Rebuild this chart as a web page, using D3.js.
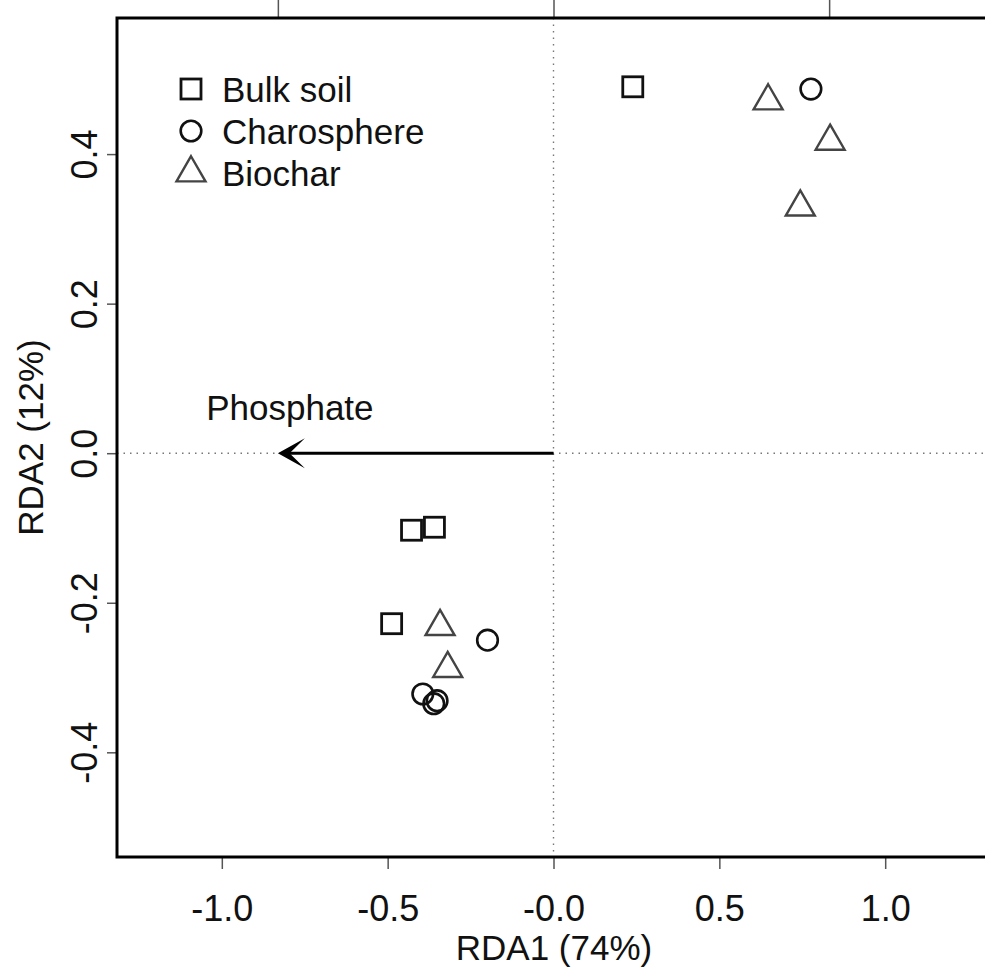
<!DOCTYPE html>
<html>
<head>
<meta charset="utf-8">
<script src="https://cdn.jsdelivr.net/npm/d3@7/dist/d3.min.js"></script>
<style>
  html, body { margin: 0; padding: 0; background: #fff; }
  svg { display: block; }
  text { font-family: "Liberation Sans", Arial, Helvetica, sans-serif; fill: #111; }
</style>
</head>
<body>
<svg id="chart" width="985" height="970"></svg>
<script>
// RDA site scores, grouped by sample type
const groups = ["Bulk soil", "Charosphere", "Biochar"];
const bulkX = [0.239, -0.428, -0.359, -0.488];
const bulkY = [0.490, -0.103, -0.099, -0.228];
const charoX = [0.776, -0.199, -0.394, -0.361, -0.351];
const charoY = [0.487, -0.250, -0.322, -0.335, -0.331];
const biocharX = [0.647, 0.834, 0.744, -0.342, -0.319];
const biocharY = [0.471, 0.417, 0.329, -0.232, -0.288];

// Environmental variable (biplot scores, drawn on the top-axis scale)
const envNames = ["Phosphate"];
const envX = [-1.0];
const envY = [0.0];

// Axis ticks
const xTicks = [-1.0, -0.5, 0.0, 0.5, 1.0];
const xTickLabels = ["-1.0", "-0.5", "-0.0", "0.5", "1.0"];
const yTicks = [-0.4, -0.2, 0.0, 0.2, 0.4];
const yTickLabels = ["-0.4", "-0.2", "0.0", "0.2", "0.4"];
const topTicks = [-1, 0, 1];
const xTitle = "RDA1 (74%)";
const yTitle = "RDA2 (12%)";

const svg = d3.select("#chart");
const plot = { left: 117, right: 991, top: 18, bottom: 857 };

const x = d3.scaleLinear().domain([-1.316, 1.319]).range([plot.left, plot.right]);
const y = d3.scaleLinear().domain([-0.540, 0.582]).range([plot.bottom, plot.top]);
// biplot arrows use their own scale, shown by the top axis
const envScale = 0.831;
const xTop = d3.scaleLinear()
  .domain(x.domain().map(v => v / envScale))
  .range(x.range());

svg.append("rect").attr("width", 985).attr("height", 970).attr("fill", "#fff");

// Dotted reference lines through the origin
svg.append("line")
  .attr("x1", x(0)).attr("x2", x(0))
  .attr("y1", plot.top).attr("y2", plot.bottom)
  .attr("stroke", "#777").attr("stroke-width", 1.4)
  .attr("stroke-dasharray", "1.5,5");
svg.append("line")
  .attr("x1", plot.left).attr("x2", plot.right)
  .attr("y1", y(0)).attr("y2", y(0))
  .attr("stroke", "#777").attr("stroke-width", 1.4)
  .attr("stroke-dasharray", "1.5,5");

// Bottom axis
const gx = svg.append("g")
  .attr("transform", `translate(0,${plot.bottom})`)
  .call(d3.axisBottom(x).tickValues(xTicks).tickSize(12).tickPadding(26)
    .tickFormat((d, i) => xTickLabels[i]));
gx.select(".domain").remove();
gx.selectAll("line").attr("stroke", "#555").attr("stroke-width", 1.5);
gx.selectAll("text").attr("font-size", 36).attr("fill", "#111")
  .style("font-family", "'Liberation Sans', Arial, sans-serif");

// Left axis with rotated labels
const gy = svg.append("g")
  .attr("transform", `translate(${plot.left},0)`)
  .call(d3.axisLeft(y).tickValues(yTicks).tickSize(10)
    .tickFormat((d, i) => yTickLabels[i]));
gy.select(".domain").remove();
gy.selectAll("line").attr("stroke", "#555").attr("stroke-width", 1.5);
gy.selectAll("text")
  .attr("x", 0).attr("y", -20).attr("dy", 0)
  .attr("text-anchor", "middle")
  .attr("transform", "rotate(-90)")
  .attr("font-size", 36).attr("fill", "#111")
  .style("font-family", "'Liberation Sans', Arial, sans-serif");

// Top axis (biplot scale)
const gt = svg.append("g")
  .attr("transform", `translate(0,${plot.top})`)
  .call(d3.axisTop(xTop).tickValues(topTicks).tickSize(18).tickFormat(""));
gt.select(".domain").remove();
gt.selectAll("line").attr("stroke", "#555").attr("stroke-width", 1.5);

// Axis titles
svg.append("text")
  .attr("x", (plot.left + plot.right) / 2).attr("y", 960)
  .attr("text-anchor", "middle").attr("font-size", 35)
  .text(xTitle);
svg.append("text")
  .attr("transform", `translate(43,${(plot.top + plot.bottom) / 2}) rotate(-90)`)
  .attr("text-anchor", "middle").attr("font-size", 35)
  .text(yTitle);

// Environmental arrow
envNames.forEach((name, i) => {
  const x0 = xTop(0), y0 = y(0);
  const x1 = xTop(envX[i]), y1 = y(envY[i] * envScale);
  const ang = Math.atan2(y1 - y0, x1 - x0);
  const headLen = 27, headHalf = 15, notch = 9;
  const ux = Math.cos(ang), uy = Math.sin(ang);
  const px = -uy, py = ux;
  svg.append("line")
    .attr("x1", x0).attr("y1", y0)
    .attr("x2", x1 - ux * notch).attr("y2", y1 - uy * notch)
    .attr("stroke", "#000").attr("stroke-width", 3);
  const bx = x1 - ux * headLen, by = y1 - uy * headLen;
  const head = d3.path();
  head.moveTo(x1, y1);
  head.lineTo(bx + px * headHalf, by + py * headHalf);
  head.lineTo(x1 - ux * notch * 1.3, y1 - uy * notch * 1.3);
  head.lineTo(bx - px * headHalf, by - py * headHalf);
  head.closePath();
  svg.append("path").attr("d", head.toString()).attr("fill", "#000");
  svg.append("text")
    .attr("x", x1 + 12).attr("y", y1 - 33)
    .attr("text-anchor", "middle").attr("font-size", 35)
    .text(name);
});

// Marker shapes
const squareSide = 20;
const circleR = 10.3;
const triSym = d3.symbol().type(d3.symbolTriangle).size(364);

function drawSquare(g, cx, cy) {
  g.append("rect")
    .attr("x", cx - squareSide / 2).attr("y", cy - squareSide / 2)
    .attr("width", squareSide).attr("height", squareSide)
    .attr("fill", "none").attr("stroke", "#111").attr("stroke-width", 2.8);
}
function drawCircle(g, cx, cy) {
  g.append("circle").attr("cx", cx).attr("cy", cy).attr("r", circleR)
    .attr("fill", "none").attr("stroke", "#111").attr("stroke-width", 2.6);
}
function drawTriangle(g, cx, cy) {
  g.append("path").attr("d", triSym())
    .attr("transform", `translate(${cx},${cy})`)
    .attr("fill", "none").attr("stroke", "#444").attr("stroke-width", 2.4)
    .attr("stroke-linejoin", "miter");
}

const pts = svg.append("g");
bulkX.forEach((v, i) => drawSquare(pts, x(v), y(bulkY[i])));
charoX.forEach((v, i) => drawCircle(pts, x(v), y(charoY[i])));
biocharX.forEach((v, i) => drawTriangle(pts, x(v), y(biocharY[i])));

// Legend
const legend = svg.append("g");
const legendDraw = [drawSquare, drawCircle, drawTriangle];
groups.forEach((name, i) => {
  const cy = 89 + i * 42;
  legendDraw[i](legend, 191, cy);
  legend.append("text")
    .attr("x", 222).attr("y", cy + 13)
    .attr("font-size", 35)
    .text(name);
});

// Plot frame
svg.append("rect")
  .attr("x", plot.left).attr("y", plot.top)
  .attr("width", plot.right - plot.left).attr("height", plot.bottom - plot.top)
  .attr("fill", "none").attr("stroke", "#000").attr("stroke-width", 3);
</script>
</body>
</html>
